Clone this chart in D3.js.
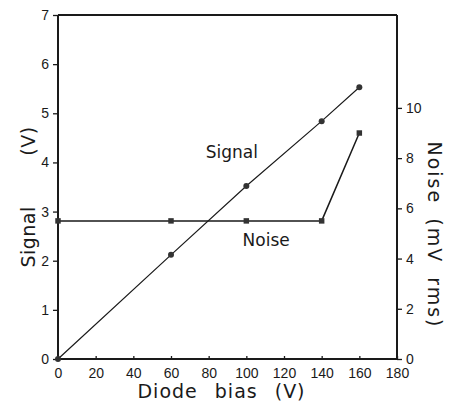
<!DOCTYPE html>
<html>
<head>
<meta charset="utf-8">
<script src="https://cdn.jsdelivr.net/npm/d3@7"></script>
<style>
  html, body { margin: 0; padding: 0; background: #fff; }
  svg { display: block; }
  text { fill: #1a1a1a; }
</style>
</head>
<body>
<svg id="chart" width="449" height="403"></svg>
<script>
// Diode bias sweep (V)
const biasSignal = [0, 60, 100, 140, 160];
const signalVolts = [0, 2.12, 3.52, 4.84, 5.53];

const biasNoise = [0, 60, 100, 140, 160];
const noiseMv = [5.5, 5.5, 5.5, 5.5, 9.0];

const xTicks = [0, 20, 40, 60, 80, 100, 120, 140, 160, 180];
const signalTicks = [0, 1, 2, 3, 4, 5, 6, 7];
const noiseTicks = [0, 2, 4, 6, 8, 10];

const margin = { left: 58, right: 52, top: 15, bottom: 44 };
const W = 449, H = 403;
const ink = "#1a1a1a";

const svg = d3.select("#chart");

const x = d3.scaleLinear().domain([0, 180]).range([margin.left, W - margin.right]);
const ySig = d3.scaleLinear().domain([0, 7]).range([H - margin.bottom, margin.top]);
const yNoise = d3.scaleLinear().domain([0, 13.7]).range([H - margin.bottom, margin.top]);

const tickFont = "'Liberation Sans', Arial, sans-serif";
const titleFont = "'DejaVu Sans', sans-serif";
const intFmt = d3.format("d");

// Axes
const gx = svg.append("g")
  .attr("transform", `translate(0,${ySig(0)})`)
  .call(d3.axisBottom(x).tickValues(xTicks).tickFormat(intFmt)
    .tickSizeInner(-3).tickSizeOuter(0).tickPadding(9));

const gl = svg.append("g")
  .attr("transform", `translate(${x(0)},0)`)
  .call(d3.axisLeft(ySig).tickValues(signalTicks).tickFormat(intFmt)
    .tickSize(5).tickSizeOuter(0).tickPadding(4));

const gr = svg.append("g")
  .attr("transform", `translate(${x(180)},0)`)
  .call(d3.axisRight(yNoise).tickValues(noiseTicks).tickFormat(intFmt)
    .tickSize(5).tickSizeOuter(0).tickPadding(4));

[gx, gl, gr].forEach(g => {
  g.select(".domain").remove();
  g.selectAll(".tick line").attr("stroke", ink).attr("stroke-width", 1.3);
  g.selectAll(".tick text")
    .attr("fill", ink)
    .style("font-family", tickFont)
    .style("font-size", "14px");
});

// Frame: bottom, left, right and top edges
const frame = svg.append("g").attr("stroke", ink).attr("stroke-width", 2).attr("fill", "none");
frame.append("line").attr("x1", x(0)).attr("x2", x(180)).attr("y1", ySig(0)).attr("y2", ySig(0));
frame.append("line").attr("x1", x(0)).attr("x2", x(0)).attr("y1", ySig(0)).attr("y2", ySig(7));
frame.append("line").attr("x1", x(180)).attr("x2", x(180)).attr("y1", ySig(0)).attr("y2", ySig(7));
frame.append("line").attr("x1", x(0)).attr("x2", x(180)).attr("y1", ySig(7)).attr("y2", ySig(7));

// Signal curve
const signalData = biasSignal.map((b, i) => ({ b, v: signalVolts[i] }));
svg.append("path")
  .datum(signalData)
  .attr("fill", "none")
  .attr("stroke", ink)
  .attr("stroke-width", 1.2)
  .attr("d", d3.line().x(d => x(d.b)).y(d => ySig(d.v)));
svg.append("g").selectAll("circle")
  .data(signalData)
  .join("circle")
  .attr("cx", d => x(d.b))
  .attr("cy", d => ySig(d.v))
  .attr("r", 3)
  .attr("fill", "#333");

// Noise curve
const noiseData = biasNoise.map((b, i) => ({ b, v: noiseMv[i] }));
svg.append("path")
  .datum(noiseData)
  .attr("fill", "none")
  .attr("stroke", ink)
  .attr("stroke-width", 1.5)
  .attr("d", d3.line().x(d => x(d.b)).y(d => yNoise(d.v)));
svg.append("g").selectAll("path")
  .data(noiseData)
  .join("path")
  .attr("transform", d => `translate(${x(d.b)},${yNoise(d.v)})`)
  .attr("d", d3.symbol(d3.symbolSquare, 30))
  .attr("fill", "#333");

// In-plot labels
svg.append("text")
  .attr("x", x(80) - 3).attr("y", ySig(4.1))
  .style("font-family", titleFont).style("font-size", "17px")
  .text("Signal");
svg.append("text")
  .attr("x", x(98)).attr("y", yNoise(4.5))
  .style("font-family", titleFont).style("font-size", "17px")
  .text("Noise");

// Axis titles
svg.append("text")
  .attr("transform", `translate(${(x(0) + x(180)) / 2 - 6},${H - 5})`)
  .attr("text-anchor", "middle")
  .style("font-family", titleFont).style("font-size", "19px")
  .style("letter-spacing", "1px").style("word-spacing", "10px")
  .text("Diode bias (V)");

svg.append("text")
  .attr("transform", `translate(35,197) rotate(-90)`)
  .attr("text-anchor", "middle")
  .style("font-family", titleFont).style("font-size", "19px")
  .style("letter-spacing", "0.5px").style("word-spacing", "44px")
  .text("Signal (V)");

svg.append("text")
  .attr("transform", `translate(428,235) rotate(90)`)
  .attr("text-anchor", "middle")
  .style("font-family", titleFont).style("font-size", "19px")
  .style("letter-spacing", "2px").style("word-spacing", "6px")
  .text("Noise (mV rms)");
</script>
</body>
</html>
